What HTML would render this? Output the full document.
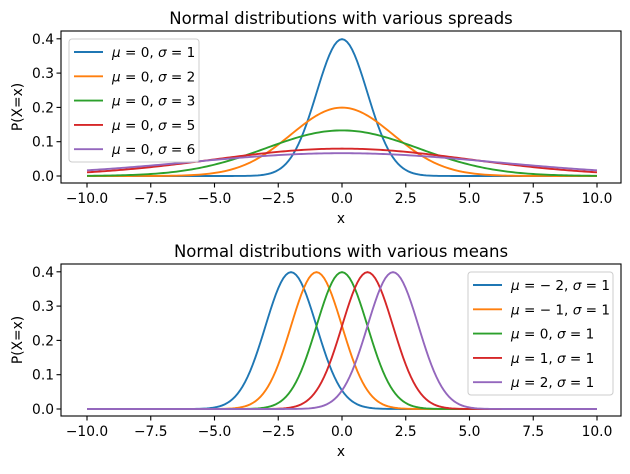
<!DOCTYPE html>
<html><head><meta charset="utf-8"><style>
body{margin:0;background:#fff}
text{font-family:"DejaVu Sans","Liberation Sans",sans-serif;fill:#000}
</style></head><body>
<svg id="c" width="630" height="469" xmlns="http://www.w3.org/2000/svg"></svg>
<script>
const topMus=[0,0,0,0,0];
const topSigmas=[1,2,3,5,6];
const botMus=[-2,-1,0,1,2];
const botSigmas=[1,1,1,1,1];
const xTicks=[-10,-7.5,-5,-2.5,0,2.5,5,7.5,10];
const xTickLabels=["\u221210.0","\u22127.5","\u22125.0","\u22122.5","0.0","2.5","5.0","7.5","10.0"];
const yTicks=[0,0.1,0.2,0.3,0.4];
const yTickLabels=["0.0","0.1","0.2","0.3","0.4"];
const colors=["#1f77b4","#ff7f0e","#2ca02c","#d62728","#9467bd"];
const svg=document.getElementById('c');
const NS="http://www.w3.org/2000/svg";
function mk(t,a,p){const e=document.createElementNS(NS,t);for(const k in a)e.setAttribute(k,a[k]);(p||svg).appendChild(e);return e;}
const xs=x=>342+x*25.5;
function panel(top,bottom,title,mus,sigmas,legendX,legendLabels,name){
  const y0=bottom-7, ys=v=>y0-v*343;
  const g=mk('g',{});
  
  
  const tt=mk('text',{x:341,y:top-7,'text-anchor':'middle','font-size':16.5},g);tt.textContent=title;
  
  for(let i=0;i<mus.length;i++){
    let d='';
    for(let k=0;k<=200;k++){const x=-10+k*0.1;const v=Math.exp(-0.5*((x-mus[i])/sigmas[i])**2)/(sigmas[i]*Math.sqrt(2*Math.PI));d+=(k?'L':'M')+xs(x).toFixed(2)+','+ys(v).toFixed(2);}
    const p=mk('path',{d:d,fill:'none',stroke:colors[i],'stroke-width':1.9},g);
    
  }
  mk('rect',{x:61,y:top,width:560,height:bottom-top,fill:'none',stroke:'#000','stroke-width':1.1},g);
  xTicks.forEach((t,i)=>{const x=xs(t);mk('line',{x1:x,x2:x,y1:bottom,y2:bottom+4.5,stroke:'#000','stroke-width':1.1},g);
    const l=mk('text',{x:x,y:bottom+20,'text-anchor':'middle','font-size':13.8},g);l.textContent=xTickLabels[i];
    });
  yTicks.forEach((t,i)=>{const y=ys(t);mk('line',{x1:61,x2:56.5,y1:y,y2:y,stroke:'#000','stroke-width':1.1},g);
    const l=mk('text',{x:54,y:y+5,'text-anchor':'end','font-size':13.8},g);l.textContent=yTickLabels[i];
    });
  const xl=mk('text',{x:341,y:bottom+40,'text-anchor':'middle','font-size':13.8},g);xl.textContent='x';
  
  const yl=mk('text',{x:22,y:(top+bottom)/2,'text-anchor':'middle','font-size':13.8,transform:`rotate(-90 22 ${(top+bottom)/2})`},g);yl.textContent='P(X=x)';
  
  const lw=legendLabels.w, lg=mk('g',{},g);
  
  mk('rect',{x:legendX,y:top+8,width:lw,height:123,rx:3,fill:'#fff','fill-opacity':0.8,stroke:'#ccc','stroke-width':1},lg);
  legendLabels.l.forEach((s,i)=>{const y=top+21+i*24.3;
    mk('line',{x1:legendX+5,x2:legendX+34,y1:y,y2:y,stroke:colors[i],'stroke-width':1.9},lg);
    const t=mk('text',{x:legendX+43,y:y+5,'font-size':13.6},lg);t.innerHTML=s;
    });
}
const it=s=>`<tspan font-style="italic">${s}</tspan>`;
panel(31,183,'Normal distributions with various spreads',topMus,topSigmas,69,{w:130,l:topSigmas.map((s,i)=>`${it('μ')} = ${topMus[i]}, ${it('σ')} = ${s}`)},'top-chart');
panel(264,416,'Normal distributions with various means',botMus,botSigmas,468,{w:145,l:botMus.map((m,i)=>`${it('μ')} = ${m<0?'− '+(-m):m}, ${it('σ')} = ${botSigmas[i]}`)},'bottom-chart');
</script>
</body></html>
